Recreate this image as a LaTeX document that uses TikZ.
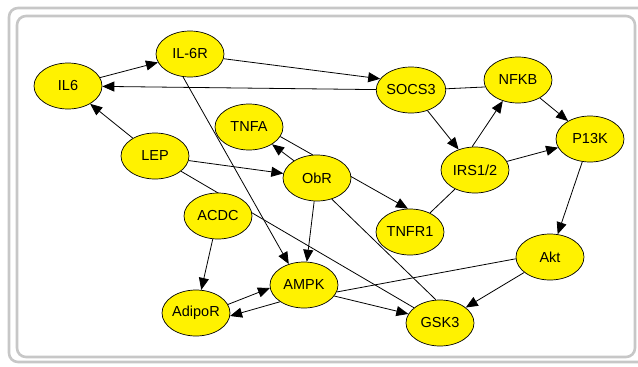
\documentclass[tikz,border=0pt]{standalone}
\usepackage{fontspec}
\setmainfont{Liberation Sans}
\usetikzlibrary{arrows.meta,shapes.geometric,backgrounds}
\tikzset{
  gene/.style={ellipse, draw=black, line width=0.7pt, fill=yellow,
    minimum width=68pt, minimum height=46pt, inner sep=0pt,
    font=\fontsize{14.5}{16}\selectfont},
  link/.style={draw=black, line width=0.8pt},
  act/.style={link, -{Triangle[length=12pt,width=10pt]}},
  frame/.style={draw=black!22, line width=2.6pt, rounded corners=9pt}
}
\begin{document}
\begin{tikzpicture}[x=1pt, y=-1pt]
    \useasboundingbox (0,0) rectangle (638,367);
    \node[gene] (IL6) at (68, 86) {IL6};
    \node[gene] (IL6R) at (190, 54) {IL-6R};
    \node[gene] (SOCS3) at (411, 90) {SOCS3};
    \node[gene] (NFKB) at (518, 80) {NFKB};
    \node[gene] (P13K) at (590, 139) {P13K};
    \node[gene] (IRS) at (475, 170) {IRS1/2};
    \node[gene] (TNFA) at (249, 127) {TNFA};
    \node[gene] (LEP) at (155, 156) {LEP};
    \node[gene] (ObR) at (317, 178) {ObR};
    \node[gene] (TNFR1) at (410, 232) {TNFR1};
    \node[gene] (ACDC) at (218, 216) {ACDC};
    \node[gene] (AMPK) at (304, 285) {AMPK};
    \node[gene] (AdipoR) at (196, 313) {AdipoR};
    \node[gene] (GSK3) at (440, 323) {GSK3};
    \node[gene] (Akt) at (550, 257) {Akt};
    \begin{pgfonlayer}{background}
        % outer and inner frame
        \draw [frame] (9, 8) rectangle (648, 362);
        \draw [frame] (17, 16) rectangle (635, 357);
        % arrows
        \draw [act] (IL6) -- (IL6R);
        \draw [act] (SOCS3) -- (IL6);
        \draw [act] (IL6R.-8) -- (SOCS3.160);
        \draw [act] (IL6R.253) -- (AMPK.126);
        \draw [act] (SOCS3) -- (IRS);
        \draw [act] (IRS.97) -- (NFKB.234);
        \draw [act] (NFKB) -- (P13K);
        \draw [act] (IRS) -- (P13K);
        \draw [act] (P13K) -- (Akt);
        \draw [act] (Akt) -- (GSK3);
        \draw [act] (AMPK.-20) -- (GSK3.164);
        \draw [act] (LEP) -- (IL6);
        \draw [act] (LEP) -- (ObR);
        \draw [act] (ObR) -- (TNFA);
        \draw [act] (TNFA.-17) -- (TNFR1.95);
        \draw [act] (ObR) -- (AMPK);
        \draw [act] (ACDC) -- (AdipoR);
        \draw [act] (AdipoR.15) -- (AMPK.185);
        \draw [act] (AMPK.215) -- (AdipoR.-5);
        % plain links
        \draw [link] (SOCS3.2) -- (NFKB.192);
        \draw [link] (IRS) -- (TNFR1);
        \draw [link] (Akt.183) -- (AMPK.-12);
        \draw [link] (LEP) -- (GSK3);
        \draw [link] (ObR.-55) -- (GSK3.100);
    \end{pgfonlayer}
\end{tikzpicture}
\end{document}
